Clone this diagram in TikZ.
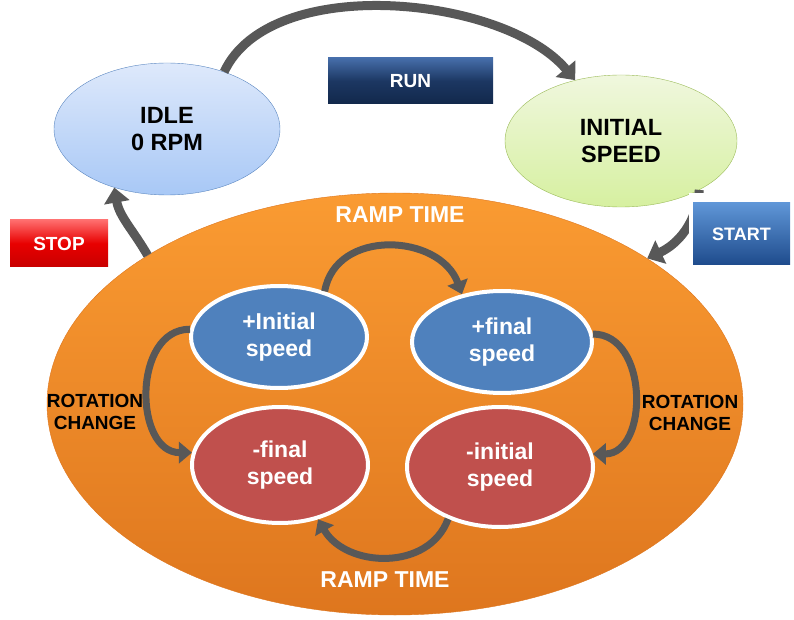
\documentclass[tikz,border=0pt]{standalone}
\usepackage{fontspec}
\setmainfont{Liberation Sans}
\usetikzlibrary{shapes.geometric, arrows.meta}
\definecolor{orTop}{RGB}{250,155,50}
\definecolor{orBot}{RGB}{222,118,30}
\definecolor{flowGray}{RGB}{88,88,88}
\definecolor{plusBlue}{RGB}{79,129,189}
\definecolor{minusRed}{RGB}{192,80,77}
\tikzset{>={Triangle[width=25pt,length=15pt]}}
\tikzset{
	state/.style={ellipse, thin, inner sep=0pt, align=center, font=\fontsize{23.5}{27}\selectfont\bfseries},
	inner/.style={ellipse, draw=white, line width=4pt, fill=#1, inner sep=0pt, align=center, text=white,
		font=\fontsize{23}{27}\selectfont\bfseries},
	btn/.style={rectangle, inner sep=0pt, text=white, font=\fontsize{19}{21}\selectfont\bfseries},
	flow/.style={draw=flowGray, line width=9pt, ->},
	flowin/.style={draw=flowGray, line width=7pt, -{Triangle[width=21pt,length=13pt]}},
	lbl/.style={align=center, font=\fontsize{19}{22}\selectfont\bfseries}
}

\begin{document}
\begin{tikzpicture}[x=1pt, y=1pt]
    \useasboundingbox (0,0) rectangle (794,619);
    \node[ellipse, minimum width=696pt, minimum height=422pt, top color=orTop, bottom color=orBot, draw=orBot](big)at(395, 215){};
    \node[state, minimum width=226pt, minimum height=132pt, draw={rgb,255:red,90;green,134;blue,192},
        top color={rgb,255:red,222;green,233;blue,251}, bottom color={rgb,255:red,168;green,200;blue,246}](idle)at(167, 490){IDLE\\0 RPM};
    \node[state, minimum width=232pt, minimum height=132pt, draw={rgb,255:red,155;green,187;blue,89},
        top color={rgb,255:red,240;green,247;blue,222}, bottom color={rgb,255:red,214;green,240;blue,160}](init)at(621, 478){INITIAL\\SPEED};
    \node[btn, minimum width=165pt, minimum height=46pt, top color={rgb,255:red,70;green,110;blue,170},
        bottom color={rgb,255:red,18;green,40;blue,75}, middle color={rgb,255:red,28;green,55;blue,98}](run)at(410.5, 538){RUN};
    \node[btn, minimum width=98pt, minimum height=47pt, top color={rgb,255:red,255;green,110;blue,110},
        bottom color={rgb,255:red,200;green,0;blue,0}, middle color={rgb,255:red,232;green,0;blue,0}](stop)at(59, 375.5){STOP};
    % outer flow
    \draw[flow](idle.45)to[out=65, in=130, looseness=.8](init.127);
    \draw[flow](init.-32)to[out=-95, in=25](big.30);
    \draw[flow](big.149)to[out=120, in=-80](idle.228);
    \fill[white](689, 426)rectangle(794, 340);
    \node[btn, minimum width=97pt, minimum height=62pt, font=\fontsize{18}{20}\selectfont\bfseries, top color={rgb,255:red,95;green,150;blue,215},
        bottom color={rgb,255:red,30;green,75;blue,140}](start)at(741.5, 385){START};
    % inner states
    \node[inner=plusBlue, minimum width=176pt, minimum height=102pt](pI)at(279, 282){+Initial\\speed};
    \node[inner=plusBlue, minimum width=180pt, minimum height=102pt](pF)at(502, 277){+final\\speed};
    \node[inner=minusRed, minimum width=176pt, minimum height=116pt](mF)at(280, 154){-final\\speed};
    \node[inner=minusRed, minimum width=186pt, minimum height=120pt](mI)at(500, 152){-initial\\speed};
    \draw[flowin](pI.45)to[out=80, in=110, looseness=1.2](pF.130);
    \draw[flowin](pF.5)to[out=0, in=0, looseness=1.2](mI.8);
    \draw[flowin](mI.225)to[out=-110, in=-60, looseness=1.1](mF.-55);
    \draw[flowin](pI.175)to[out=180, in=180, looseness=1.2](mF.172);
    \node[lbl, text=white, font=\fontsize{23}{26}\selectfont\bfseries](rampA)at(400, 404){RAMP TIME};
    \node[lbl, text=white, font=\fontsize{23}{26}\selectfont\bfseries](rampB)at(385, 39){RAMP TIME};
    \node[lbl](rotL)at(95, 207){ROTATION\\CHANGE};
    \node[lbl](rotR)at(690, 206){ROTATION\\CHANGE};
\end{tikzpicture}
\end{document}
